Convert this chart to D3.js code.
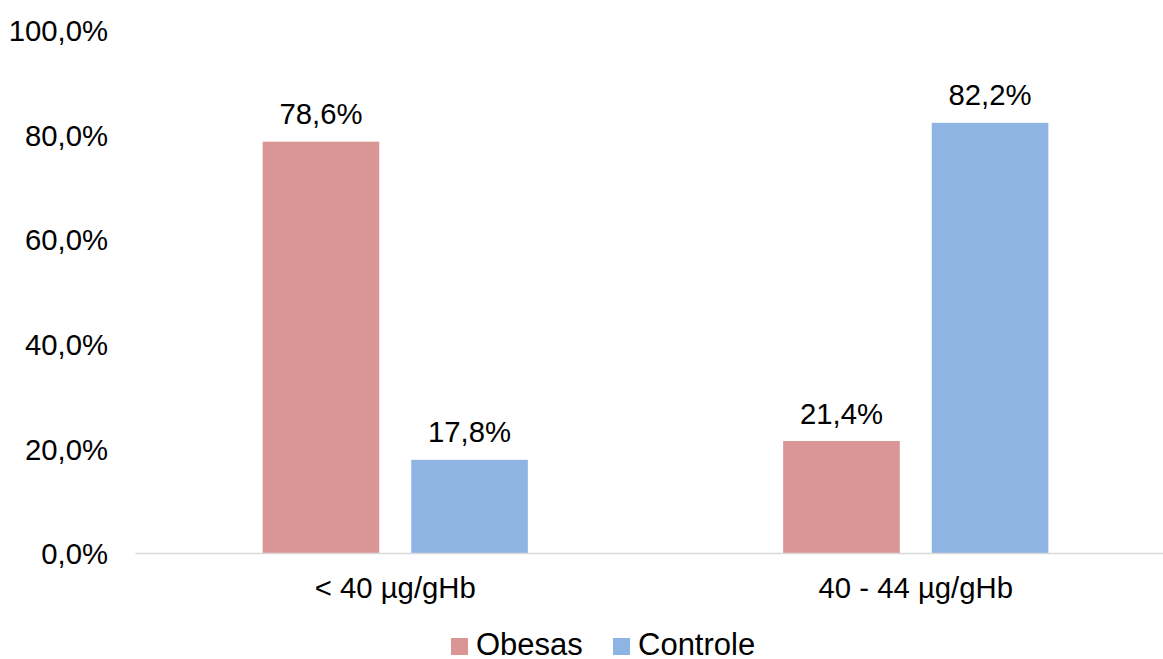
<!DOCTYPE html>
<html>
<head>
<meta charset="utf-8">
<script src="https://cdn.jsdelivr.net/npm/d3@7"></script>
<style>
  html, body { margin: 0; padding: 0; background: #ffffff; }
  svg { display: block; font-family: "Liberation Sans", Arial, sans-serif; }
</style>
</head>
<body>
<svg id="chart" width="1163" height="659"></svg>
<script>
const categories = ["< 40 µg/gHb", "40 - 44 µg/gHb"];
const seriesNames = ["Obesas", "Controle"];
const obesasValues = [78.6, 21.4];
const controleValues = [17.8, 82.2];
const yTicks = [0, 20, 40, 60, 80, 100];
const colors = ["#D99694", "#8EB4E3"];

const svg = d3.select("#chart");
const FS = 29.3;
const LFS = 31;

const x0 = d3.scaleBand().domain(categories).range([135, 1176]).paddingInner(0).paddingOuter(0);
const y = d3.scaleLinear().domain([0, 100]).range([553, 29.7]);

const barW = 116.6, barGap = 32;
const groupW = barW * 2 + barGap;
const x1 = d3.scaleOrdinal().domain(seriesNames).range([0, barW + barGap]);

const data = categories.map((c, i) => ({ cat: c, vals: [
  { s: seriesNames[0], v: obesasValues[i] },
  { s: seriesNames[1], v: controleValues[i] }
]}));

const fmt = v => d3.format(".1f")(v).replace(".", ",") + "%";

// y axis labels
const yAxis = d3.axisLeft(y).tickValues(yTicks).tickSize(0).tickPadding(0).tickFormat(fmt);
const ya = svg.append("g").attr("transform", "translate(108,0)").call(yAxis);
ya.select(".domain").remove();
ya.selectAll("text").attr("font-size", FS).attr("fill", "#000")
  .attr("font-family", "Liberation Sans, Arial, sans-serif").attr("dy", "0.37em");

// bars
const groups = svg.append("g").selectAll("g").data(data).join("g")
  .attr("transform", d => `translate(${x0(d.cat) + (x0.bandwidth() - groupW) / 2},0)`);

groups.selectAll("rect").data(d => d.vals).join("rect")
  .attr("x", d => x1(d.s))
  .attr("width", barW)
  .attr("y", d => y(d.v))
  .attr("height", d => y(0) - y(d.v))
  .attr("fill", (d, i) => colors[i]);

groups.selectAll("text.lbl").data(d => d.vals).join("text")
  .attr("class", "lbl")
  .attr("x", d => x1(d.s) + barW / 2)
  .attr("y", d => y(d.v) - 17.5)
  .attr("text-anchor", "middle")
  .attr("font-size", FS)
  .attr("fill", "#000")
  .text(d => fmt(d.v));

// x axis
const xAxis = d3.axisBottom(x0).tickSize(0).tickPadding(0);
const xa = svg.append("g").attr("transform", `translate(0,${y(0)})`).call(xAxis);
xa.select(".domain").attr("stroke", "#D9D9D9").attr("stroke-width", 1.3);
xa.selectAll("text").attr("font-size", FS).attr("fill", "#000")
  .attr("font-family", "Liberation Sans, Arial, sans-serif")
  .attr("y", 45).attr("dy", 0);

// legend
const legendItems = [
  { name: seriesNames[0], color: colors[0], sx: 451, tx: 476 },
  { name: seriesNames[1], color: colors[1], sx: 613, tx: 638 }
];
const lg = svg.append("g");
legendItems.forEach(it => {
  lg.append("rect").attr("x", it.sx).attr("y", 638).attr("width", 17).attr("height", 17).attr("fill", it.color);
  lg.append("text").attr("x", it.tx).attr("y", 655).attr("font-size", LFS).attr("fill", "#000").text(it.name);
});
</script>
</body>
</html>
